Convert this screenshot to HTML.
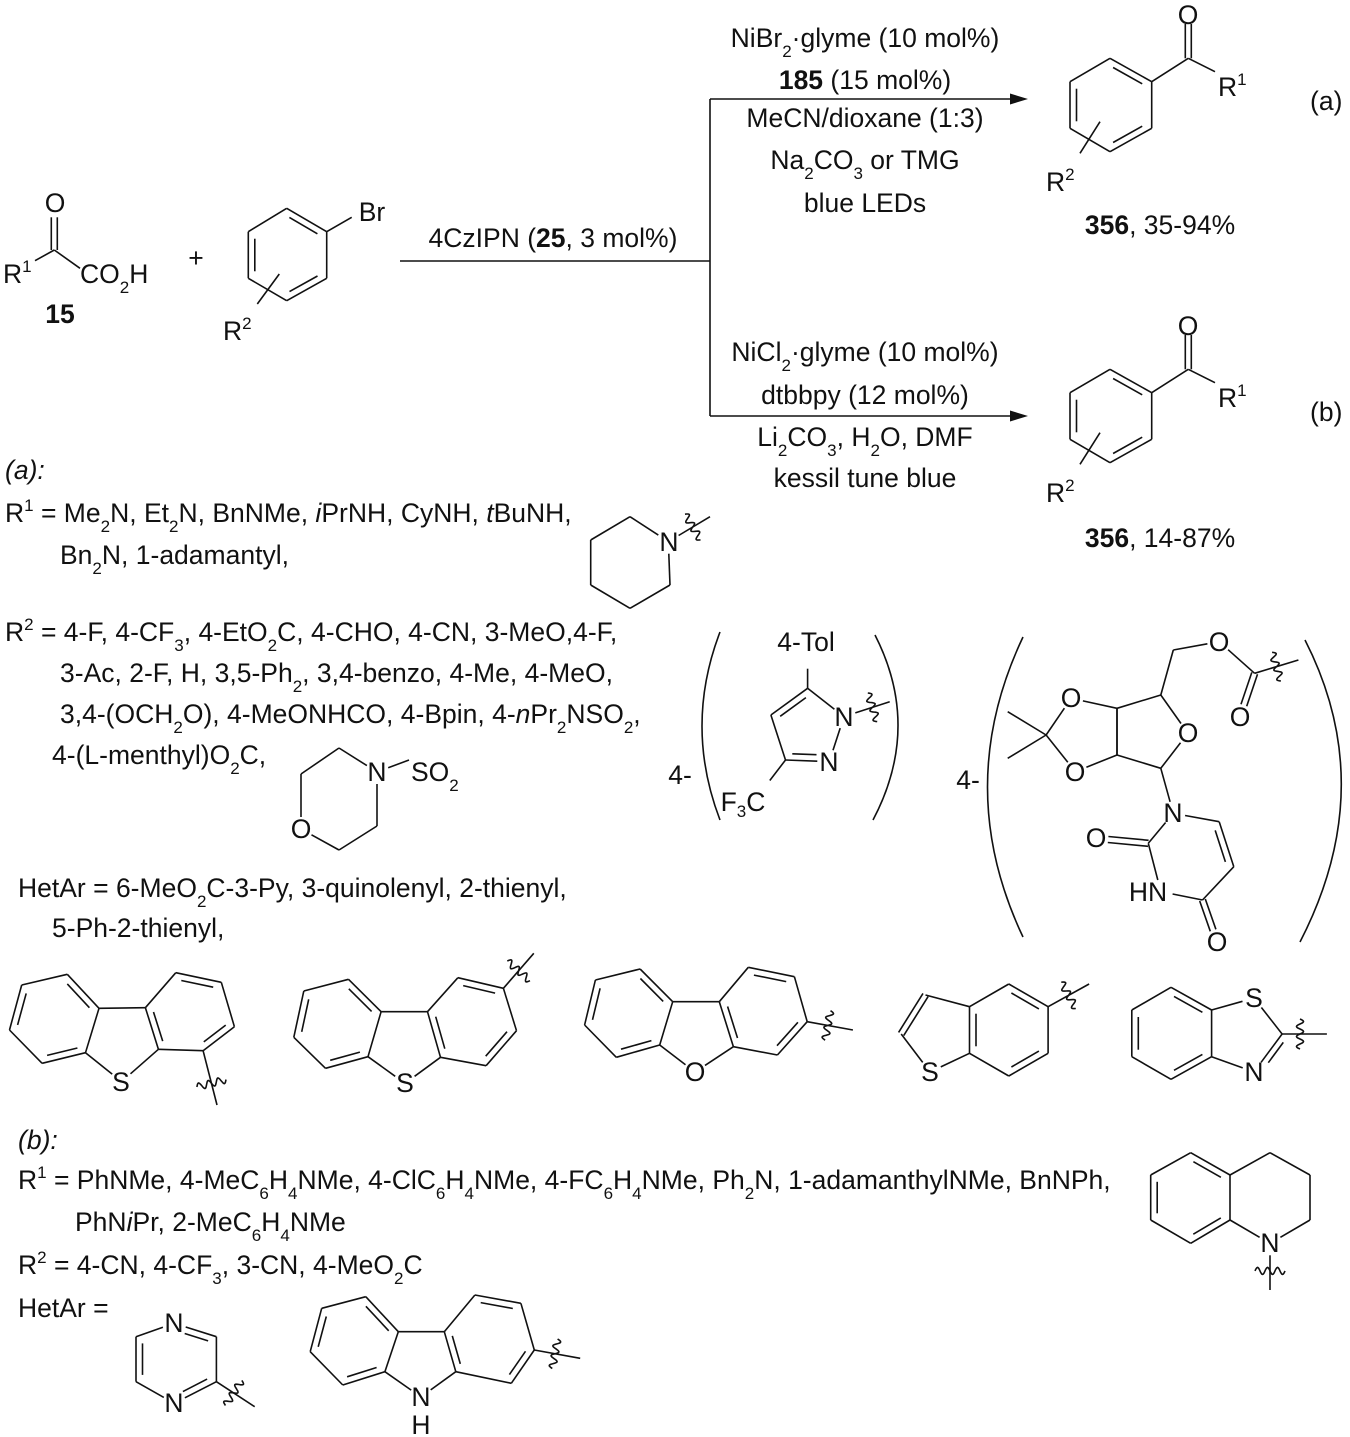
<!DOCTYPE html>
<html><head><meta charset="utf-8"><style>
html,body{margin:0;padding:0;background:#fff}
svg{display:block}
text{font-family:"Liberation Sans",Arial,sans-serif;font-size:26.5px;fill:#111}
.c{text-anchor:middle;dominant-baseline:central}
.m{text-anchor:middle}
.s{font-size:17px}
.b{font-weight:bold}
line,path.l{stroke:#111;stroke-width:1.6;fill:none}
</style></head><body>
<svg id="s" width="1350" height="1437" viewBox="0 0 1350 1437" xmlns="http://www.w3.org/2000/svg">
<g id="g" stroke="#111" stroke-width="1.6" fill="none">
<line x1="400" y1="261" x2="710" y2="261"/>
<line x1="710" y1="99" x2="710" y2="416"/>
<line x1="710" y1="99" x2="1015" y2="99"/>
<line x1="710" y1="416" x2="1015" y2="416"/>
<path d="M720 632 Q684 726 720 820"/>
<path d="M875 635 Q922 727 873 820"/>
<path d="M1023 637 Q952 787 1023 937"/>
<path d="M1305 640 Q1380 787 1300 942"/>
</g>
<polygon points="1028,99 1010,93.5 1010,104.5" fill="#111"/>
<polygon points="1028,416 1010,410.5 1010,421.5" fill="#111"/>

<text class="c" x="55" y="203">O</text>
<text x="3" y="283">R<tspan class="s" dy="-11">1</tspan></text>
<text x="80" y="283">CO<tspan class="s" baseline-shift="sub">2</tspan>H</text>
<text class="m b" x="60" y="323">15</text>
<text class="c" x="196" y="258">+</text>
<text class="c" x="372" y="212">Br</text>
<text x="223" y="340">R<tspan class="s" dy="-11">2</tspan></text>
<text class="m" x="553" y="247">4CzIPN (<tspan class="b">25</tspan>, 3 mol%)</text>

<text class="m" x="865" y="47">NiBr<tspan class="s" baseline-shift="sub">2</tspan>·glyme (10 mol%)</text>
<text class="m" x="865" y="89"><tspan class="b">185</tspan> (15 mol%)</text>
<text class="m" x="865" y="127">MeCN/dioxane (1:3)</text>
<text class="m" x="865" y="169">Na<tspan class="s" baseline-shift="sub">2</tspan>CO<tspan class="s" baseline-shift="sub">3</tspan> or TMG</text>
<text class="m" x="865" y="212">blue LEDs</text>
<text class="m" x="865" y="361">NiCl<tspan class="s" baseline-shift="sub">2</tspan>·glyme (10 mol%)</text>
<text class="m" x="865" y="404">dtbbpy (12 mol%)</text>
<text class="m" x="865" y="446">Li<tspan class="s" baseline-shift="sub">2</tspan>CO<tspan class="s" baseline-shift="sub">3</tspan>, H<tspan class="s" baseline-shift="sub">2</tspan>O, DMF</text>
<text class="m" x="865" y="487">kessil tune blue</text>

<text class="c" x="1188" y="15">O</text>
<text x="1218" y="96">R<tspan class="s" dy="-11">1</tspan></text>
<text x="1046" y="191">R<tspan class="s" dy="-11">2</tspan></text>
<text class="m" x="1160" y="234"><tspan class="b">356</tspan>, 35-94%</text>
<text x="1310" y="110">(a)</text>
<text class="c" x="1188" y="326">O</text>
<text x="1218" y="407">R<tspan class="s" dy="-11">1</tspan></text>
<text x="1046" y="502">R<tspan class="s" dy="-11">2</tspan></text>
<text class="m" x="1160" y="547"><tspan class="b">356</tspan>, 14-87%</text>
<text x="1310" y="421">(b)</text>

<text x="5" y="479" font-style="italic">(a):</text>
<text x="5" y="522">R<tspan class="s" dy="-11">1</tspan><tspan dy="11"> = Me</tspan><tspan class="s" baseline-shift="sub">2</tspan>N, Et<tspan class="s" baseline-shift="sub">2</tspan>N, BnNMe, <tspan font-style="italic">i</tspan>PrNH, CyNH, <tspan font-style="italic">t</tspan>BuNH,</text>
<text x="60" y="564">Bn<tspan class="s" baseline-shift="sub">2</tspan>N, 1-adamantyl,</text>
<text x="5" y="641">R<tspan class="s" dy="-11">2</tspan><tspan dy="11"> = 4-F, 4-CF</tspan><tspan class="s" baseline-shift="sub">3</tspan>, 4-EtO<tspan class="s" baseline-shift="sub">2</tspan>C, 4-CHO, 4-CN, 3-MeO,4-F,</text>
<text x="60" y="682">3-Ac, 2-F, H, 3,5-Ph<tspan class="s" baseline-shift="sub">2</tspan>, 3,4-benzo, 4-Me, 4-MeO,</text>
<text x="60" y="723">3,4-(OCH<tspan class="s" baseline-shift="sub">2</tspan>O), 4-MeONHCO, 4-Bpin, 4-<tspan font-style="italic">n</tspan>Pr<tspan class="s" baseline-shift="sub">2</tspan>NSO<tspan class="s" baseline-shift="sub">2</tspan>,</text>
<text x="52" y="764">4-(L-menthyl)O<tspan class="s" baseline-shift="sub">2</tspan>C,</text>
<text x="18" y="897">HetAr = 6-MeO<tspan class="s" baseline-shift="sub">2</tspan>C-3-Py, 3-quinolenyl, 2-thienyl,</text>
<text x="52" y="937">5-Ph-2-thienyl,</text>

<text x="18" y="1149" font-style="italic">(b):</text>
<text x="18" y="1189">R<tspan class="s" dy="-11">1</tspan><tspan dy="11"> = PhNMe, 4-MeC</tspan><tspan class="s" baseline-shift="sub">6</tspan>H<tspan class="s" baseline-shift="sub">4</tspan>NMe, 4-ClC<tspan class="s" baseline-shift="sub">6</tspan>H<tspan class="s" baseline-shift="sub">4</tspan>NMe, 4-FC<tspan class="s" baseline-shift="sub">6</tspan>H<tspan class="s" baseline-shift="sub">4</tspan>NMe, Ph<tspan class="s" baseline-shift="sub">2</tspan>N, 1-adamanthylNMe, BnNPh,</text>
<text x="75" y="1231">PhN<tspan font-style="italic">i</tspan>Pr, 2-MeC<tspan class="s" baseline-shift="sub">6</tspan>H<tspan class="s" baseline-shift="sub">4</tspan>NMe</text>
<text x="18" y="1274">R<tspan class="s" dy="-11">2</tspan><tspan dy="11"> = 4-CN, 4-CF</tspan><tspan class="s" baseline-shift="sub">3</tspan>, 3-CN, 4-MeO<tspan class="s" baseline-shift="sub">2</tspan>C</text>
<text x="18" y="1317">HetAr =</text>

<text class="c" x="669" y="542">N</text>
<text class="c" x="377" y="772">N</text>
<text class="c" x="301" y="829">O</text>
<text x="411" y="781">SO<tspan class="s" baseline-shift="sub">2</tspan></text>
<text class="c" x="806" y="642">4-Tol</text>
<text class="c" x="844" y="717">N</text>
<text class="c" x="829" y="762">N</text>
<text class="c" x="743" y="802">F<tspan class="s" baseline-shift="sub">3</tspan>C</text>
<text class="c" x="680" y="775">4-</text>
<text class="c" x="968" y="780">4-</text>
<text class="c" x="1071" y="698">O</text>
<text class="c" x="1075" y="772">O</text>
<text class="c" x="1188" y="733">O</text>
<text class="c" x="1219" y="642">O</text>
<text class="c" x="1240" y="717">O</text>
<text class="c" x="1173" y="813">N</text>
<text class="c" x="1096" y="838">O</text>
<text class="c" x="1148" y="892">HN</text>
<text class="c" x="1217" y="942">O</text>
<text class="c" x="121" y="1082">S</text>
<text class="c" x="405" y="1083">S</text>
<text class="c" x="695" y="1072">O</text>
<text class="c" x="930" y="1072">S</text>
<text class="c" x="1254" y="998">S</text>
<text class="c" x="1254" y="1072">N</text>
<text class="c" x="1270" y="1243">N</text>
<text class="c" x="174" y="1323">N</text>
<text class="c" x="174" y="1403">N</text>
<text class="c" x="421" y="1397">N</text>
<text class="c" x="421" y="1425">H</text>
</svg>
<script>
(function(){
const NS='http://www.w3.org/2000/svg',g=document.getElementById('g');
function add(t,a){const e=document.createElementNS(NS,t);for(const k in a)e.setAttribute(k,a[k]);g.appendChild(e);return e;}
function L(a,b){add('line',{x1:a[0].toFixed(1),y1:a[1].toFixed(1),x2:b[0].toFixed(1),y2:b[1].toFixed(1)});}
function sh(a,b,d){const dx=b[0]-a[0],dy=b[1]-a[1],l=Math.hypot(dx,dy);return [a[0]+dx/l*d,a[1]+dy/l*d];}
function inner(a,b,c,la,lb){const dx=b[0]-a[0],dy=b[1]-a[1],l=Math.hypot(dx,dy);let nx=-dy/l,ny=dx/l;const mx=(a[0]+b[0])/2-c[0],my=(a[1]+b[1])/2-c[1];if(nx*mx+ny*my>0){nx=-nx;ny=-ny;}const o=6.5;const ta=la?13/l:0.15,tb=lb?13/l:0.15;L([a[0]+dx*ta+nx*o,a[1]+dy*ta+ny*o],[b[0]-dx*tb+nx*o,b[1]-dy*tb+ny*o]);}
function ring(f,pts,dbl,lab){const p=pts.map(q=>f(q[0],q[1]));const n=p.length;lab=lab||[];const c=[p.reduce((s,q)=>s+q[0],0)/n,p.reduce((s,q)=>s+q[1],0)/n];
 for(let i=0;i<n;i++){const j=(i+1)%n;const a=p[i],b=p[j];L(lab[i]?sh(a,b,12):a,lab[j]?sh(b,a,12):b);if(dbl.includes(i))inner(a,b,c,lab[i],lab[j]);}return p;}
function B(f,a,b,la,lb){let A=f(a[0],a[1]),C=f(b[0],b[1]);const A2=la?sh(A,C,12):A,C2=lb?sh(C,A,12):C;L(A2,C2);}
function D(f,a,b,la,lb){let A=f(a[0],a[1]),C=f(b[0],b[1]);if(la)A=sh(A,C,12);if(lb)C=sh(C,A,12);const dx=C[0]-A[0],dy=C[1]-A[1],l=Math.hypot(dx,dy),nx=-dy/l*3,ny=dx/l*3;L([A[0]+nx,A[1]+ny],[C[0]+nx,C[1]+ny]);L([A[0]-nx,A[1]-ny],[C[0]-nx,C[1]-ny]);}
function W(f,a,b,t,la){let A=f(a[0],a[1]),C=f(b[0],b[1]);if(la)A=sh(A,C,12);L(A,C);const dx=C[0]-A[0],dy=C[1]-A[1],l=Math.hypot(dx,dy),ux=dx/l,uy=dy/l,nx=-uy,ny=ux;const m=[A[0]+dx*t,A[1]+dy*t];let d='';const N=48;for(let i=0;i<=N;i++){const s=-15+30*i/N,w=3.5*Math.sin(i/N*Math.PI*6);d+=(i?'L':'M')+(m[0]+nx*s+ux*w).toFixed(1)+' '+(m[1]+ny*s+uy*w).toFixed(1);}add('path',{d:d,fill:'none'});}
const I=(x,y)=>[x,y],Z1=(x,y)=>[x/3,180+y/3],Z2=(x,y)=>[1000+x/3,y/3],Zb=(x,y)=>[1000+x/3,311+y/3],Z3=(x,y)=>[700+x*0.417,580+y/3],Z4=(x,y)=>[x*0.434,950+y/3],Z5=(x,y)=>[680+x*0.427,950+y/3],Z6=(x,y)=>[x*0.383,1290+y/3],Z7=(x,y)=>[270+x/3,505+y/3],Z8=(x,y)=>[1120+x/3,1130+y/3];
ring(Z1,[[860,85],[980,155],[980,295],[860,362],[745,295],[745,155]],[0,2,4]);
B(Z1,[980,155],[1055,112]);B(Z1,[838,282],[772,372]);
D(Z1,[163,112],[163,210]);B(Z1,[163,210],[105,242]);B(Z1,[163,210],[240,265]);
[Z2,Zb].forEach(f=>{ring(f,[[330,175],[455,245],[455,385],[330,455],[210,385],[210,245]],[0,2,4]);B(f,[455,245],[565,175]);D(f,[565,175],[565,72]);B(f,[565,175],[645,215]);B(f,[300,365],[240,460]);});
ring(Z7,[[1080,35],[1195,110],[1200,240],[1080,310],[962,240],[962,105]],[],[0,1,0,0,0,0]);
W(Z7,[1195,110],[1320,35],0.45,true);
ring(I,[[339,748],[377,772],[377,826],[339,850],[301,829],[301,774]],[],[0,1,0,0,1,0]);
B(I,[377,772],[409,760],true,false);
ring(Z3,[[258,325],[345,410],[310,545],[205,540],[170,405]],[2,4],[0,1,1,0,0]);
B(Z3,[258,325],[258,230],false,true);B(Z3,[205,540],[150,630],false,true);
W(Z3,[345,410],[455,365],0.5,true);
ring(Z3,[[890,355],[1000,385],[1000,525],[900,575],[830,465]],[],[1,0,0,1,0]);
ring(Z3,[[1000,385],[1105,345],[1170,460],[1105,565],[1000,525]],[],[0,0,1,0,0]);
B(Z3,[830,465],[738,395]);B(Z3,[830,465],[738,535]);
B(Z3,[1105,345],[1135,210]);B(Z3,[1135,210],[1245,185],false,true);B(Z3,[1245,185],[1330,280],true,false);
D(Z3,[1330,280],[1295,410],false,true);W(Z3,[1330,280],[1435,240],0.5);
B(Z3,[1105,565],[1135,700],false,true);
ring(Z3,[[1135,700],[1245,725],[1280,860],[1205,960],[1105,935],[1075,790]],[1],[1,0,0,0,1,0]);
D(Z3,[1075,790],[950,775],false,true);D(Z3,[1205,960],[1240,1085],false,true);
ring(Z4,[[50,105],[155,73],[228,175],[197,308],[97,340],[22,240]],[1,3,5]);
ring(Z4,[[405,68],[510,97],[540,230],[468,302],[365,298],[335,173]],[0,2,4]);
B(Z4,[228,175],[335,173]);B(Z4,[197,308],[280,395],false,true);B(Z4,[365,298],[280,395],false,true);
W(Z4,[468,302],[500,465],0.6);
ring(Z4,[[700,123],[803,88],[878,185],[848,320],[750,355],[677,262]],[1,3,5]);
ring(Z4,[[1055,83],[1160,115],[1190,242],[1120,347],[1015,322],[985,185]],[0,2,4]);
B(Z4,[878,185],[985,185]);B(Z4,[848,320],[933,400],false,true);B(Z4,[1015,322],[933,400],false,true);
W(Z4,[1160,115],[1230,10],0.5);
ring(Z4,[[1372,90],[1475,57],[1550,155],[1520,285],[1420,322],[1347,225]],[1,3,5]);
ring(Z5,[[160,52],[268,80],[298,215],[228,315],[125,290],[92,155]],[0,2,4]);
L(Z4(1550,155),Z5(92,155));
(function(){const O=[695,1072];let a=Z4(1520,285);L(a,sh(O,a,12));a=Z5(125,290);L(a,sh(O,a,12));})();
W(Z5,[298,215],[405,240],0.45);
ring(Z5,[[770,102],[862,170],[862,310],[770,378],[678,310],[678,170]],[0,2,4]);
B(Z5,[678,170],[575,135]);D(Z5,[575,135],[518,252]);
(function(){const S=[930,1072];let a=Z5(518,252);L(a,sh(S,a,12));a=Z5(678,310);L(a,sh(S,a,12));})();
W(Z5,[862,170],[958,102],0.5);
ring(Z5,[[1150,112],[1245,180],[1245,320],[1150,388],[1058,320],[1058,180]],[0,2,4]);
(function(){const S=[1254,998],N=[1254,1072];let a=Z5(1245,180);L(a,sh(S,a,12));a=Z5(1245,320);L(a,sh(N,a,12));const c=Z5(1410,252);L(sh(S,c,12),c);L(c,sh(N,c,12));
 const d1=sh(c,N,6),d2=sh(N,c,16);const dx=N[0]-c[0],dy=N[1]-c[1],l=Math.hypot(dx,dy);const nx=-dy/l*6,ny=dx/l*6;L([d1[0]-nx,d1[1]-ny],[d2[0]-nx,d2[1]-ny]);})();
W(Z5,[1410,252],[1515,252],0.4);
ring(Z8,[[212,68],[330,135],[330,270],[212,340],[92,270],[92,135]],[0,2,4]);
B(Z8,[330,135],[450,68]);B(Z8,[450,68],[570,135]);B(Z8,[570,135],[570,270]);B(Z8,[570,270],[450,340],false,true);B(Z8,[330,270],[450,340],false,true);
W(Z8,[450,340],[450,480],0.45,true);
ring(Z6,[[455,100],[565,140],[565,275],[455,340],[355,275],[355,140]],[0,2,4],[1,0,0,1,0,0]);
W(Z6,[565,275],[665,350],0.45);
ring(Z6,[[840,55],[955,20],[1040,125],[1005,245],[895,285],[810,185]],[1,3,5]);
ring(Z6,[[1240,15],[1360,40],[1395,180],[1335,280],[1190,245],[1160,125]],[0,2,4]);
B(Z6,[1040,125],[1160,125]);
(function(){const N=[421,1397];let a=Z6(1005,245);L(a,sh(N,a,12));a=Z6(1190,245);L(a,sh(N,a,12));})();
W(Z6,[1395,180],[1515,205],0.45);
})();
</script>
</body></html>
